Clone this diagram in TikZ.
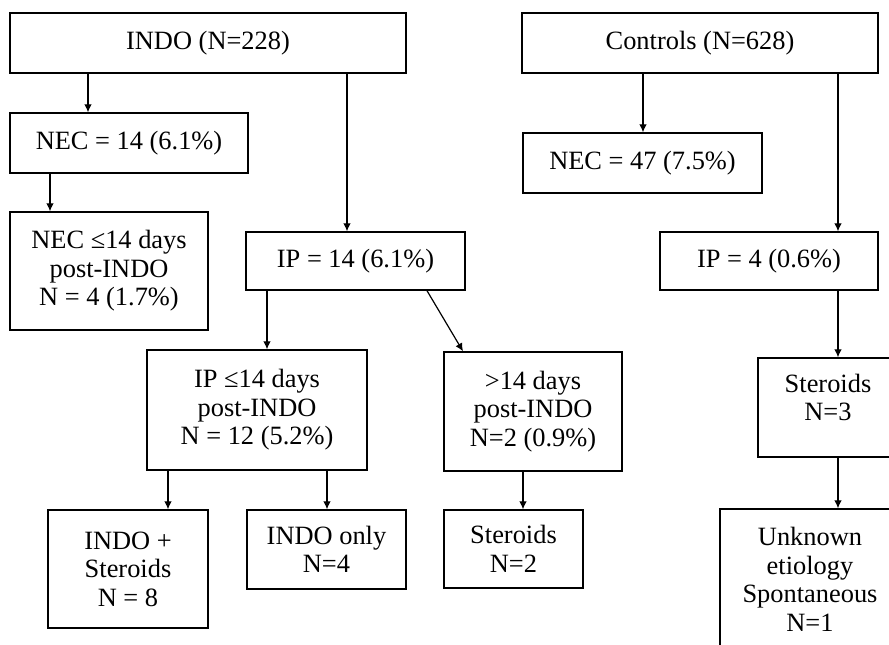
\documentclass[tikz,border=0pt]{standalone}
\usepackage{fontspec}
\setmainfont{Liberation Serif}
\usepackage{tikz}
\usetikzlibrary{arrows.meta,positioning}

\begin{document}
\begin{tikzpicture}[x=0.5pt,y=-0.5pt,>=Latex,
  box/.style={draw,line width=0.7pt,inner sep=0pt,align=center,
    font=\fontsize{13.2}{14.3}\selectfont},
  arr/.style={->,line width=0.6pt,>={Latex[length=4pt,width=3.8pt]}}]
\useasboundingbox (0,0) rectangle (889,644);
\clip (0,0) rectangle (889,644);
% INDO arm
\node[box,minimum width=198pt,minimum height=30pt] (indo) at (208,43) {INDO (N=228)};
\node[box,minimum width=119pt,minimum height=30pt] (nec1) at (129,143) {NEC = 14 (6.1\%)};
\node[box,minimum width=99pt,minimum height=59pt] (nec1d) at (109,271)
  {NEC ≤14 days\\post-INDO\\N = 4 (1.7\%)};
\node[box,minimum width=109.5pt,minimum height=29pt] (ip1) at (355.5,261) {IP = 14 (6.1\%)};
\node[box,minimum width=110pt,minimum height=60pt] (ipd) at (257,410)
  {IP ≤14 days\\post-INDO\\N = 12 (5.2\%)};
\node[box,minimum width=89pt,minimum height=59.5pt] (ipl) at (533,411.5)
  {>14 days\\post-INDO\\N=2 (0.9\%)};
\node[box,minimum width=80pt,minimum height=59pt] (indost) at (128,569)
  {INDO +\\Steroids\\N = 8};
\node[box,minimum width=79.5pt,minimum height=39.5pt] (indoonly) at (326.5,549.5)
  {INDO only\\N=4};
\node[box,minimum width=69.5pt,minimum height=39pt] (ster2) at (513.5,549)
  {Steroids\\N=2};
% control arm
\node[box,minimum width=178pt,minimum height=30pt] (ctrl) at (700,43) {Controls (N=628)};
\node[box,minimum width=119.5pt,minimum height=30pt] (nec2) at (642.5,163) {NEC = 47 (7.5\%)};
\node[box,minimum width=109pt,minimum height=29pt] (ip2) at (769,261) {IP = 4 (0.6\%)};
\node[box,minimum width=70pt,minimum height=49.5pt,text depth=10pt] (ster3) at (828,407.5)
  {Steroids\\N=3};
\node[box,minimum width=90pt,minimum height=70.5pt] (unk) at (810,579.5)
  {Unknown\\etiology\\Spontaneous\\N=1};
% arrows
\draw[arr] (indo.south -| 88,0) -- (nec1.north -| 88,0);
\draw[arr] (nec1.south -| 50,0) -- (nec1d.north -| 50,0);
\draw[arr] (indo.south -| 347,0) -- (ip1.north -| 347,0);
\draw[arr] (ip1.south -| 267,0) -- (ipd.north -| 267,0);
\draw[arr] (ip1.south -| 427,0) -- (ipl.north -| 463,0);
\draw[arr] (ipd.south -| 168,0) -- (indost.north -| 168,0);
\draw[arr] (ipd.south -| 327,0) -- (indoonly.north -| 327,0);
\draw[arr] (ipl.south -| 523,0) -- (ster2.north -| 523,0);
\draw[arr] (ctrl.south -| 643,0) -- (nec2.north -| 643,0);
\draw[arr] (ctrl.south -| 838,0) -- (ip2.north -| 838,0);
\draw[arr] (ip2.south -| 838,0) -- (ster3.north -| 838,0);
\draw[arr] (ster3.south -| 838,0) -- (unk.north -| 838,0);
\end{tikzpicture}
\end{document}
